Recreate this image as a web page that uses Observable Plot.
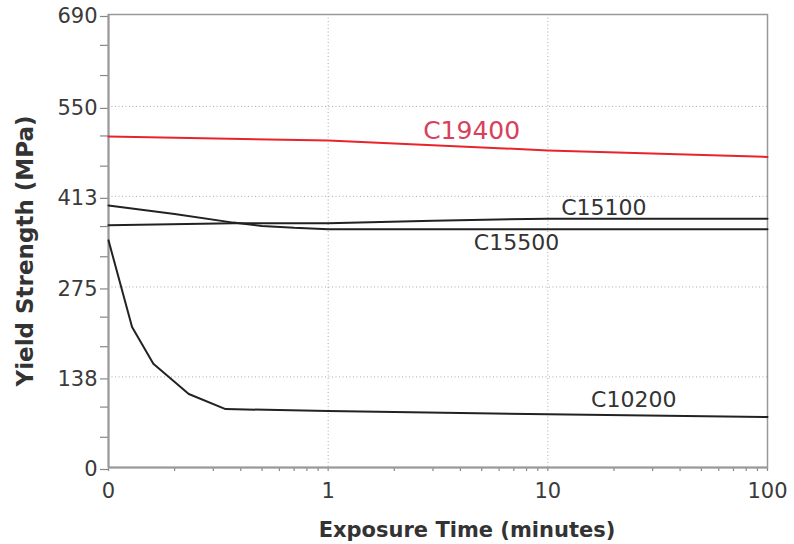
<!DOCTYPE html>
<html>
<head>
<meta charset="utf-8">
<script src="https://cdn.jsdelivr.net/npm/d3@7"></script>
<script src="https://cdn.jsdelivr.net/npm/@observablehq/plot@0.6"></script>
<style>
  html, body { margin: 0; padding: 0; background: #fff; }
  #chart svg { display: block; }
</style>
</head>
<body>
<div id="chart"></div>
<script>
// Exposure time (minutes) and yield strength (MPa) per alloy
const c19400T = [0.1, 1, 10, 100];
const c19400Y = [504, 498, 483, 473];

const c15100T = [0.1, 0.37, 1, 3, 10, 100];
const c15100Y = [369, 372, 372, 376, 379, 379];

const c15500T = [0.1, 0.2, 0.37, 0.5, 0.7, 1, 10, 100];
const c15500Y = [399, 386, 373, 368, 365, 363, 363, 363];

const c10200T = [0.1, 0.128, 0.16, 0.232, 0.341, 1, 10, 100];
const c10200Y = [346, 214, 158, 112, 89, 86, 81, 77];

const seriesLabels = ["C19400", "C15100", "C15500", "C10200"];
const labelT = [4.5, 18, 7.2, 24.6];
const labelY = [513, 396, 342, 103];

const xTicks = [0.1, 1, 10, 100];
const xTickLabels = ["0", "1", "10", "100"];
const xMinorTicks = [0.2,0.3,0.4,0.5,0.6,0.7,0.8,0.9,2,3,4,5,6,7,8,9,20,30,40,50,60,70,80,90];
const yTicks = [0, 138, 275, 413, 550, 690];
const yMinorTicks = [46, 92, 184, 229, 321, 367, 459, 505, 597, 643];
const gridYValues = [138, 275, 413, 550];
const gridXValues = [1, 10];

const mk = (name, T, Y) => T.map((t, i) => ({series: name, t, y: Y[i]}));
const black = [...mk("C15100", c15100T, c15100Y), ...mk("C15500", c15500T, c15500Y), ...mk("C10200", c10200T, c10200Y)];
const red = mk("C19400", c19400T, c19400Y);
const labels = seriesLabels.map((s, i) => ({s, t: labelT[i], y: labelY[i]}));
const redLabel = labels.filter((d) => d.s === "C19400");
const blackLabels = labels.filter((d) => d.s !== "C19400");

const chart = Plot.plot({
  width: 794,
  height: 544,
  marginLeft: 108,
  marginRight: 27,
  marginTop: 14,
  marginBottom: 77,
  style: {fontFamily: "'DejaVu Sans', sans-serif", background: "#fff"},
  x: {type: "log", domain: [0.1, 100]},
  y: {domain: [0, 690]},
  marks: [
    Plot.gridY(gridYValues, {stroke: "#aaa", strokeOpacity: 1, strokeDasharray: "1,2.5", strokeWidth: 1}),
    Plot.gridX(gridXValues, {stroke: "#aaa", strokeOpacity: 1, strokeDasharray: "1,2.5", strokeWidth: 1}),
    Plot.axisY(yMinorTicks, {tickSize: 8, text: null, stroke: "#888", strokeWidth: 1.2, label: null}),
    Plot.axisY(yTicks, {tickSize: 8, tickPadding: 3, fontSize: 21, fill: "#3a3a3a", stroke: "#888", strokeWidth: 1.2, dy: 2, label: null}),
    Plot.axisX(xMinorTicks, {tickSize: 4, text: null, stroke: "#888", strokeWidth: 1.2, label: null}),
    Plot.axisX(xTicks, {tickSize: 4, tickPadding: 12, fontSize: 21, fill: "#3a3a3a", stroke: "#888", strokeWidth: 1.2,
      tickFormat: (d) => xTickLabels[xTicks.indexOf(d)], label: null}),
    Plot.frame({stroke: "#999", strokeWidth: 1.5}),
    Plot.ruleY([0], {stroke: "#999", strokeWidth: 2}),
    Plot.ruleX([0.1], {stroke: "#999", strokeWidth: 2}),
    Plot.line(red, {x: "t", y: "y", stroke: "#e8232c", strokeWidth: 2}),
    Plot.line(black, {x: "t", y: "y", z: "series", stroke: "#222", strokeWidth: 2}),
    Plot.text(redLabel, {x: "t", y: "y", text: "s", fill: "#d9405a", fontSize: 25, textAnchor: "middle", lineAnchor: "middle"}),
    Plot.text(blackLabels, {x: "t", y: "y", text: "s", fill: "#333", fontSize: 22, textAnchor: "middle", lineAnchor: "middle"}),
    Plot.text(["Exposure Time (minutes)"], {frameAnchor: "bottom", dx: 29, dy: 63, fontSize: 21, fontWeight: "bold", fill: "#333", textAnchor: "middle", lineAnchor: "middle"}),
    Plot.text(["Yield Strength (MPa)"], {frameAnchor: "left", dx: -83, dy: 10, rotate: -90, fontSize: 23, fontWeight: "bold", fill: "#333", textAnchor: "middle", lineAnchor: "middle"})
  ]
});
document.getElementById("chart").appendChild(chart);
</script>
</body>
</html>
